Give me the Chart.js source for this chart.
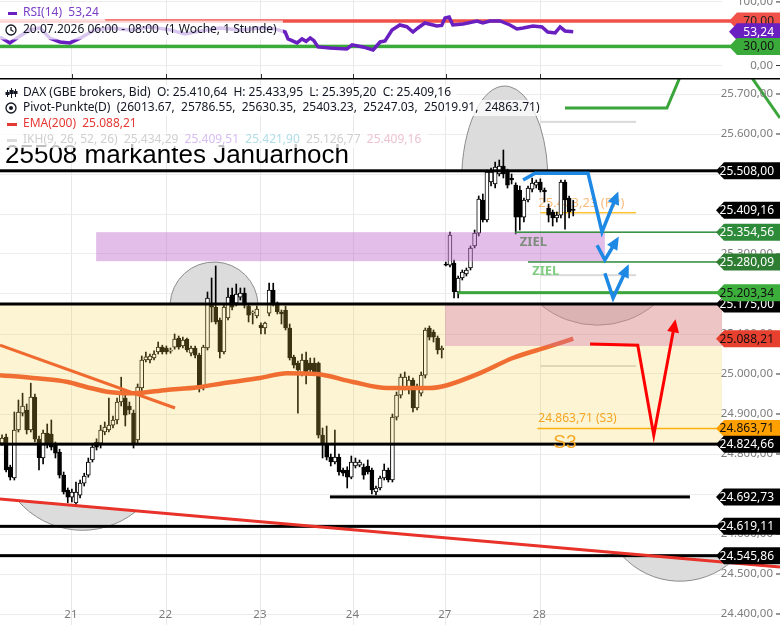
<!DOCTYPE html>
<html>
<head>
<meta charset="utf-8">
<script src="https://cdn.jsdelivr.net/npm/chart.js@4.4.1/dist/chart.umd.min.js"></script>
<style>
  html, body { margin: 0; padding: 0; background: #fff; overflow: hidden; }
  #wrap { position: relative; width: 780px; height: 625px; }
  canvas { position: absolute; left: 0; display: block; }
  #rsi { top: 0; }
  #main { top: 78px; }
</style>
</head>
<body>
<div id="wrap">
  <canvas id="rsi" width="780" height="78"></canvas>
  <canvas id="main" width="780" height="547"></canvas>
</div>
<script>
// Tage (Position = Kerzenindex am Tagesanfang)
const tage = ['21', '22', '23', '24', '27', '28'];
const tagPos = [17, 40, 63, 85.5, 108, 131];

// DAX Stundenkerzen
const eroeffnung = [
  24827, 24842, 24767, 24740, 24860, 24902, 24910, 24860, 24942, 24837,
  24790, 24852, 24850, 24822, 24805, 24747, 24710, 24692, 24678, 24697,
  24727, 24747, 24785, 24830, 24827, 24855, 24860, 24872, 24885, 24930,
  24940, 24920, 24902, 24835, 24965, 25035, 25035, 25040, 25055, 25067,
  25065, 25057, 25067, 25090, 25070, 25087, 25052, 25065, 25047, 24967,
  25065, 25172, 25167, 25135, 25055, 25140, 25197, 25177, 25192, 25202,
  25170, 25152, 25145, 25122, 25115, 25152, 25210, 25177, 25155, 25160,
  25115, 25042, 25027, 25002, 25035, 25027, 25027, 25027, 24847, 24822,
  24792, 24780, 24792, 24760, 24760, 24742, 24770, 24772, 24767, 24770,
  24760, 24705, 24715, 24740, 24760, 24735, 24892, 24947, 24967, 24960,
  24985, 24915, 24952, 24997, 25115, 25105, 25090, 25060, 25275, 25272,
  25277, 25205, 25240, 25250, 25265, 25320, 25352, 25435, 25385, 25480,
  25475, 25500, 25520, 25505, 25490, 25472, 25460, 25392, 25435, 25462,
  25472, 25480, 25460, 25415, 25405, 25390, 25397, 25480, 25440, 25410.64
];
const hoch = [
  24848, 24850, 24772, 24905, 24935, 24952, 24925, 24977, 24950, 24845,
  24860, 24875, 24885, 24830, 24812, 24755, 24715, 24712, 24730, 24735,
  24752, 24790, 24825, 24838, 24872, 24880, 24940, 24895, 24940, 24992,
  24950, 24930, 24910, 24975, 25045, 25055, 25050, 25058, 25080, 25072,
  25070, 25065, 25100, 25095, 25092, 25090, 25070, 25070, 25052, 25072,
  25205, 25240, 25270, 25140, 25175, 25215, 25215, 25225, 25215, 25215,
  25175, 25158, 25170, 25128, 25130, 25227, 25227, 25180, 25160, 25170,
  25125, 25047, 25032, 25050, 25055, 25040, 25040, 25030, 24865, 24870,
  24800, 24860, 24800, 24765, 24768, 24795, 24790, 24785, 24775, 24785,
  24765, 24720, 24745, 24775, 24765, 24900, 24955, 25000, 25005, 24995,
  24990, 24975, 25005, 25115, 25120, 25110, 25095, 25070, 25280, 25355,
  25285, 25245, 25260, 25265, 25320, 25360, 25445, 25450, 25510, 25515,
  25530, 25535, 25560, 25512, 25500, 25478, 25470, 25440, 25470, 25490,
  25485, 25488, 25465, 25425, 25410, 25405, 25485, 25485, 25445, 25433.95
];
const tief = [
  24822, 24755, 24735, 24735, 24855, 24895, 24850, 24855, 24830, 24760,
  24775, 24815, 24810, 24790, 24740, 24700, 24678, 24680, 24672, 24690,
  24720, 24742, 24780, 24810, 24815, 24848, 24855, 24865, 24875, 24920,
  24870, 24900, 24815, 24825, 24958, 25030, 25028, 25035, 25050, 25050,
  25050, 25052, 25062, 25062, 25065, 25055, 25045, 25040, 24955, 24960,
  25060, 25130, 25125, 25040, 25050, 25135, 25160, 25170, 25185, 25165,
  25130, 25125, 25140, 25100, 25100, 25145, 25170, 25150, 25125, 25110,
  25035, 25015, 24902, 24995, 24975, 25000, 25000, 24840, 24790, 24785,
  24770, 24775, 24747, 24745, 24715, 24738, 24765, 24768, 24737, 24750,
  24700, 24698, 24710, 24735, 24730, 24730, 24885, 24940, 24960, 24950,
  24905, 24910, 24945, 24990, 25085, 25080, 25050, 25040, 25270, 25268,
  25190, 25190, 25235, 25245, 25260, 25315, 25345, 25380, 25380, 25470,
  25465, 25495, 25490, 25465, 25475, 25350, 25360, 25380, 25430, 25455,
  25465, 25455, 25430, 25380, 25370, 25380, 25390, 25362, 25390, 25395.20
];
const schluss = [
  24840, 24760, 24742, 24860, 24905, 24920, 24860, 24942, 24837, 24790,
  24852, 24827, 24817, 24802, 24747, 24705, 24692, 24705, 24705, 24727,
  24745, 24780, 24817, 24817, 24860, 24867, 24872, 24885, 24930, 24955,
  24897, 24910, 24827, 24967, 25035, 25043, 25045, 25050, 25067, 25055,
  25055, 25060, 25087, 25067, 25085, 25060, 25065, 25047, 24967, 25067,
  25190, 25167, 25130, 25055, 25167, 25192, 25167, 25200, 25202, 25172,
  25147, 25155, 25162, 25115, 25127, 25210, 25177, 25155, 25150, 25115,
  25040, 25022, 25010, 25035, 25005, 25010, 25005, 24847, 24827, 24792,
  24780, 24792, 24755, 24752, 24742, 24780, 24780, 24780, 24747, 24755,
  24710, 24715, 24740, 24760, 24735, 24892, 24947, 24992, 24992, 24985,
  24915, 24967, 24997, 25110, 25092, 25092, 25060, 25065, 25272, 25347,
  25205, 25240, 25255, 25260, 25315, 25352, 25437, 25385, 25505, 25505,
  25517, 25520, 25500, 25472, 25485, 25392, 25392, 25435, 25465, 25477,
  25480, 25460, 25455, 25397, 25390, 25397, 25480, 25435, 25405, 25409.16
];

// EMA(200)
const emaPos = [-0.49, 7.5, 16, 20.7, 26, 32, 40, 47.7, 53.8, 62.8, 69.3, 76.6, 85.4, 93.7, 104, 108.3, 116.3, 124.3, 132.6, 139];
const emaWert = [24997, 24990, 24980, 24967, 24955, 24952, 24960, 24967, 24977, 24990, 25002, 25000, 24980, 24965, 24965, 24972, 25002, 25040, 25067, 25088.21];

// RSI(14)
const rsiPos = [-0.49, 1.9, 4.4, 6.8, 9.2, 11.7, 14.1, 16.5, 19, 22.6, 26.3, 31.1, 36, 40.9, 44.5, 48.2, 53, 57.9, 62.8, 66.4,
  68.9, 69.6, 71.8, 73, 74, 75, 75.9, 76.9, 79.8, 83.9, 85.2, 87.8, 90.3, 92, 93.2, 94.9, 96.8, 98.5, 100, 101.2, 102.9,
  105.8, 107, 107.8, 108.8, 109.7, 112.2, 115.6, 117, 118.7, 121.2, 123.6, 125.3, 126.8, 129.2, 131.4, 132.8, 134.6, 135.8, 137, 139];
const rsiWert = [45, 35.5, 46.5, 56, 59, 43, 37, 35.5, 43, 56, 59, 56, 60.6, 56, 49.6, 54.3, 59, 56, 59, 57.5,
  52.7, 41.8, 35.5, 41.8, 38, 43.3, 39, 29.2, 27.6, 26.1, 32.4, 29.2, 24.5, 37, 38.5, 55.9, 63.7, 61, 52.7, 59, 66.9,
  62.2, 63, 74.7, 76.3, 63.7, 65.3, 70, 67, 70, 70, 63.7, 57.5, 59, 62.2, 60.6, 52.7, 51.2, 60.6, 54.3, 53.24];
const rsiGrenzen = [70, 30];

// Pivot-Punkte (Tag 28)
const pivotNamen = ['R3', 'R2', 'R1', 'PP', 'S1', 'S2', 'S3'];
const pivotWerte = [26013.67, 25786.55, 25630.35, 25403.23, 25247.03, 25019.91, 24863.71];
const pivotVon = 131, pivotBis = 154.3;

// Horizontale Linien
const linienWerte = [25508, 25175, 24824.66, 24692.73, 24619.11, 24545.86];
const linienVon = [-0.49, -0.49, -0.49, 79.8, -0.49, -0.49];
const linienBis = [175.2, 175.2, 175.2, 167.4, 175.2, 175.2];
const zielWerte = [25354.56, 25280.09, 25203.34];
const zielVon = [124.8, 128, 111];

// Zonen
const zoneOben = [25175, 25175, 25354.56];
const zoneUnten = [24824.66, 25070, 25282];
const zoneVon = [-0.49, 107.8, 22.9];
const zoneBis = [175.2, 175.2, 146.7];

// Bögen
const bogenVon = [3.9, 40.9, 111.9, 130.9, 150.9];
const bogenBis = [32.4, 62.3, 132.8, 158.9, 179];
const bogenBasisVon = [24683, 25175, 25508, 25175, 24545.86];
const bogenBasisBis = [24655, 25175, 25508, 25175, 24545.86];
const bogenScheitel = [24610, 25280, 25720, 25122, 24482];

// Trendlinien
const trendObenPos = [-0.49, 42.1];
const trendObenWert = [25072, 24915];
const trendUntenPos = [-0.49, 189.3];
const trendUntenWert = [24687.5, 24517.5];

// Szenarien
const blau1Pos = [126.8, 129.7, 142.6, 146, 149.6];
const blau1Wert = [25485, 25502, 25502, 25355, 25447];
const blau2Pos = [144.8, 146.7, 149.6];
const blau2Wert = [25322, 25285, 25335];
const blau3Pos = [146.7, 148.7, 152.1];
const blau3Wert = [25252, 25190, 25265];
const rotPos = [143.1, 154.7, 158.6, 163.7];
const rotWert = [25075, 25072, 24847, 25127];
const gruen1Pos = [137, 161.8, 165.5];
const gruen1Wert = [25665, 25665, 25755];
const gruen2Pos = [181.5, 189.3];
const gruen2Wert = [25755, 25640];

// Preismarken rechts
const markenWerte = [25508, 25409.16, 25354.56, 25280.09, 25175, 25203.34, 25088.21, 24863.71, 24824.66, 24692.73, 24619.11, 24545.86];
const markenHinter = ['#000', '#000', '#2e8b3a', '#2e7d32', '#000', '#3cae3c', '#e8402f', '#ffa000', '#000', '#000', '#000', '#000'];
const markenSchrift = ['#fff', '#fff', '#fff', '#fff', '#fff', '#111', '#111', '#111', '#fff', '#fff', '#fff', '#fff'];

const fmt = v => {
  const [g, d] = v.toFixed(2).split('.');
  return g.replace(/\B(?=(\d{3})+(?!\d))/g, '.') + ',' + d;
};
const pts = (p, w) => p.map((x, k) => ({ x, y: w[k] }));
const SCHRIFT = '12px "Noto Sans"';

function marke(ctx, y, text, bg, fg, tip) {
  const h = 8.5;
  ctx.beginPath();
  ctx.moveTo(tip, y);
  ctx.lineTo(tip + 8, y - h);
  ctx.lineTo(780, y - h);
  ctx.lineTo(780, y + h);
  ctx.lineTo(tip + 8, y + h);
  ctx.closePath();
  ctx.fillStyle = bg;
  ctx.fill();
  ctx.fillStyle = fg;
  ctx.font = SCHRIFT;
  ctx.textAlign = 'right';
  ctx.textBaseline = 'middle';
  ctx.fillText(text, 774, y + 0.5);
}

function reihe(ctx, y, teile, x0, h) {
  h = h || 16;
  ctx.font = SCHRIFT;
  let breite = 0;
  teile.forEach(([t]) => { breite += ctx.measureText(t + '  ').width; });
  ctx.fillStyle = 'rgba(255,255,255,0.75)';
  ctx.fillRect(0, y - h / 2, x0 + breite, h);
  let x = x0;
  ctx.textAlign = 'left';
  ctx.textBaseline = 'middle';
  teile.forEach(([t, farbe]) => {
    ctx.fillStyle = farbe;
    ctx.fillText(t, x, y);
    x += ctx.measureText(t + '  ').width;
  });
}

function yBeschriftung(c, fmtFn) {
  const ctx = c.ctx, s = c.scales.y;
  ctx.font = '11.5px "Noto Sans"';
  ctx.textAlign = 'right';
  ctx.textBaseline = 'middle';
  s.ticks.forEach(t => {
    const y = s.getPixelForValue(t.value);
    ctx.fillStyle = '#7d7d7d';
    ctx.fillText(fmtFn(t.value), 773, y);
    ctx.fillStyle = '#333';
    ctx.fillRect(776, y - 0.5, 4, 1);
  });
}

function pfeil(c, pos, wert, farbe) {
  const ctx = c.ctx, n = pos.length;
  const x1 = c.scales.x.getPixelForValue(pos[n - 1]), y1 = c.scales.y.getPixelForValue(wert[n - 1]);
  const x0 = c.scales.x.getPixelForValue(pos[n - 2]), y0 = c.scales.y.getPixelForValue(wert[n - 2]);
  const a = Math.atan2(y1 - y0, x1 - x0);
  ctx.save();
  ctx.translate(x1, y1);
  ctx.rotate(a);
  ctx.beginPath();
  ctx.moveTo(4, 0);
  ctx.lineTo(-9, -6);
  ctx.lineTo(-9, 6);
  ctx.closePath();
  ctx.fillStyle = farbe;
  ctx.fill();
  ctx.restore();
}

// Bogen über einer (evtl. schrägen) Sehne
function bogen(ctx, x0, y0, x1, y1, ys) {
  const mx = (x0 + x1) / 2, my = (y0 + y1) / 2;
  const a = Math.hypot(x1 - x0, y1 - y0) / 2;
  const phi = Math.atan2(y1 - y0, x1 - x0);
  const oben = ys < my;
  const h = Math.abs(ys - my);
  ctx.save();
  ctx.translate(mx, my);
  ctx.rotate(phi);
  if (!oben) ctx.scale(1, -1);
  ctx.beginPath();
  if (h <= a) {
    const R = (a * a + h * h) / (2 * h), cy = R - h;
    ctx.arc(0, cy, R, Math.atan2(-cy, -a), Math.atan2(-cy, a), false);
  } else {
    const d = 0.12 * h, ry = h + d, rx = a / Math.sqrt(1 - (d / ry) * (d / ry));
    ctx.ellipse(0, d, rx, ry, 0, Math.atan2(-d / ry, -a / rx), Math.atan2(-d / ry, a / rx), false);
  }
  ctx.restore();
  ctx.fillStyle = '#dcdcdc';
  ctx.fill();
  ctx.strokeStyle = '#8c8c8c';
  ctx.lineWidth = 1;
  ctx.stroke();
}

const xAchse = () => ({
  type: 'linear', min: -0.49, max: 175.2, offset: false,
  afterBuildTicks: s => { s.ticks = tagPos.map(v => ({ value: v })); },
  afterFit: s => { s.height = 0; },
  ticks: { display: false },
  grid: { color: '#e8e8e8', drawTicks: false, offset: false },
  border: { display: false }
});

// ---------- RSI ----------
const rsiPlugin = {
  id: 'rsiZeichnung',
  beforeDatasetsDraw(c) {
    const ctx = c.ctx, y = c.scales.y;
    const farben = ['#f0524a', '#3aaa3a'];
    rsiGrenzen.forEach((g, k) => {
      ctx.fillStyle = farben[k];
      ctx.fillRect(0, y.getPixelForValue(g) - 1.75, 740, 3.5);
    });
  },
  afterDatasetsDraw(c) {
    const ctx = c.ctx, y = c.scales.y, x = c.scales.x;
    const letzter = rsiWert[rsiWert.length - 1];
    reihe(ctx, 13, [['RSI(14)', '#7b3fc8'], [fmt(letzter), '#7b3fc8']], 23);
    ctx.fillStyle = '#6a1fc0';
    ctx.fillRect(8, 12, 9, 3);
    reihe(ctx, 30, [['20.07.2026 06:00 - 08:00', '#131722'], ['(1 Woche, 1 Stunde)', '#131722']], 23, 19);
    ctx.strokeStyle = '#131722';
    ctx.lineWidth = 1.3;
    ctx.beginPath(); ctx.arc(11, 30, 5, 0, 2 * Math.PI); ctx.stroke();
    ctx.beginPath(); ctx.moveTo(11, 27); ctx.lineTo(11, 30); ctx.lineTo(13.5, 31.5); ctx.stroke();
    yBeschriftung(c, fmt);
    tagPos.forEach(p => {
      ctx.fillStyle = '#333';
      ctx.fillRect(Math.round(x.getPixelForValue(p)), 74, 1, 4);
    });
    marke(ctx, y.getPixelForValue(70), fmt(70), '#f0524a', '#222', 729);
    marke(ctx, y.getPixelForValue(letzter), fmt(letzter), '#6a1fc0', '#fff', 729);
    marke(ctx, y.getPixelForValue(30), fmt(30), '#3aaa3a', '#111', 729);
  }
};

new Chart(document.getElementById('rsi'), {
  type: 'line',
  data: {
    datasets: [{
      label: 'RSI', data: pts(rsiPos, rsiWert),
      borderColor: '#6a1fc0', borderWidth: 3.5, pointRadius: 0, tension: 0
    }]
  },
  options: {
    responsive: false, animation: false, events: [],
    layout: { padding: 0, autoPadding: false },
    plugins: { legend: { display: false }, tooltip: { enabled: false } },
    scales: {
      x: xAchse(),
      y: {
        position: 'right', min: -19.65, max: 103,
        afterBuildTicks: s => { s.ticks = [{ value: 0 }, { value: 100 }]; },
        afterFit: s => { s.width = 58; },
        ticks: { display: false },
        grid: { color: '#ececec', drawTicks: false },
        border: { display: false }
      }
    }
  },
  plugins: [rsiPlugin]
});

// ---------- Hauptchart ----------
const X = (c, i) => c.scales.x.getPixelForValue(i);
const Y = (c, v) => c.scales.y.getPixelForValue(v);

const hauptPlugin = {
  id: 'zeichnung',
  beforeDatasetsDraw(c) {
    const ctx = c.ctx;
    bogenVon.forEach((v, k) => {
      bogen(ctx, X(c, v), Y(c, bogenBasisVon[k]), X(c, bogenBis[k]), Y(c, bogenBasisBis[k]), Y(c, bogenScheitel[k]));
    });
    // Pivot-Linien
    pivotWerte.forEach((p, k) => {
      const y = Y(c, p);
      if (y < 0 || y > c.chartArea.bottom) return;
      if (pivotNamen[k] === 'PP') { ctx.fillStyle = '#ffc233'; ctx.fillRect(X(c, pivotVon), y - 0.75, X(c, pivotBis) - X(c, pivotVon), 1.5); }
      else if (pivotNamen[k] === 'S3') { ctx.fillStyle = '#ffa500'; ctx.fillRect(X(c, pivotVon) - 3, y - 0.75, X(c, 175.2) - X(c, pivotVon) + 3, 1.5); }
      else { ctx.fillStyle = '#d9d9d9'; ctx.fillRect(X(c, pivotVon), y - 1, X(c, pivotBis) - X(c, pivotVon), 2); }
    });
    const pp = pivotWerte[pivotNamen.indexOf('PP')];
    ctx.font = '13px "Noto Sans"';
    ctx.textAlign = 'left';
    ctx.textBaseline = 'alphabetic';
    ctx.fillStyle = 'rgba(247,160,70,0.7)';
    ctx.fillText(fmt(pp) + ' (PP)', X(c, pivotVon) - 2, Y(c, pp) - 6);
  },
  afterDatasetDraw(c, args) {
    if (c.data.datasets[args.index].label !== 'Trend oben') return;
    const ctx = c.ctx;
    const zFarben = ['rgba(242,208,67,0.24)', 'rgba(205,110,168,0.35)', 'rgba(190,110,205,0.45)'];
    zoneOben.forEach((o, k) => {
      const x0 = X(c, zoneVon[k]), x1 = X(c, zoneBis[k]);
      const y0 = Y(c, o), y1 = Y(c, zoneUnten[k]);
      ctx.fillStyle = zFarben[k];
      ctx.fillRect(x0, y0, x1 - x0, y1 - y0);
    });
    // schwarze Linien
    linienWerte.forEach((w, k) => {
      const x0 = X(c, linienVon[k]), x1 = X(c, linienBis[k]);
      ctx.fillStyle = '#000';
      ctx.fillRect(x0, Y(c, w) - 1.5, x1 - x0, 3);
    });
    // Ziel-Linien
    const zBreite = [1.5, 1.5, 3], zFarbe = ['#2e8b3a', '#2e8b3a', '#3aa53a'];
    zielWerte.forEach((w, k) => {
      const x0 = X(c, zielVon[k]), x1 = X(c, 175.2);
      ctx.fillStyle = zFarbe[k];
      ctx.fillRect(x0, Y(c, w) - zBreite[k] / 2, x1 - x0, zBreite[k]);
    });
    ctx.textAlign = 'left';
    ctx.textBaseline = 'alphabetic';
    ctx.font = 'bold 13px "Noto Sans"';
    ctx.fillStyle = '#7d8c7d';
    ctx.fillText('ZIEL', X(c, 126), Y(c, zielWerte[0]) + 14);
    ctx.fillStyle = '#7fcc7f';
    ctx.fillText('ZIEL', X(c, 129), Y(c, zielWerte[1]) + 13);
    // S3
    const s3 = pivotWerte[pivotNamen.indexOf('S3')];
    ctx.font = '12px "Noto Sans"';
    ctx.fillStyle = '#f5a623';
    ctx.fillText(fmt(s3) + ' (S3)', X(c, pivotVon) - 2, Y(c, s3) - 7);
    ctx.font = '19px "Liberation Sans"';
    ctx.fillText('S3', X(c, pivotVon) + 13, Y(c, s3) + 19);
    // Titel
    ctx.font = '26px "Liberation Sans"';
    ctx.fillStyle = '#000';
    ctx.fillText('25508 markantes Januarhoch', 5, 85);
  },
  afterDatasetsDraw(c) {
    pfeil(c, blau1Pos, blau1Wert, '#1e88e5');
    pfeil(c, blau2Pos, blau2Wert, '#1e88e5');
    pfeil(c, blau3Pos, blau3Wert, '#1e88e5');
    pfeil(c, rotPos, rotWert, '#ff0000');
  },
  afterDraw(c) {
    const ctx = c.ctx;
    ctx.fillStyle = '#000';
    ctx.fillRect(0, 0, 780, 1.5);
    yBeschriftung(c, fmt);
    // Tage
    ctx.font = '11.5px "Noto Sans"';
    ctx.fillStyle = '#7a7a7a';
    ctx.textAlign = 'center';
    ctx.textBaseline = 'middle';
    tage.forEach((t, k) => ctx.fillText(t, X(c, tagPos[k]) - 1, 537));
    // Marken
    markenWerte.forEach((w, k) => marke(ctx, Y(c, w), fmt(w), markenHinter[k], markenSchrift[k], 716));
    // Legende
    const n = eroeffnung.length - 1;
    reihe(ctx, 15, [['DAX (GBE brokers, Bid)', '#131722'], ['O: ' + fmt(eroeffnung[n]), '#131722'], ['H: ' + fmt(hoch[n]), '#131722'],
      ['L: ' + fmt(tief[n]), '#131722'], ['C: ' + fmt(schluss[n]), '#131722']], 23);
    ctx.fillStyle = '#131722';
    [[7, 12, 19, 14, 17], [11, 10, 20, 12, 16], [15, 11, 19, 13, 16]].forEach(([x, a, b, t, u]) => {
      ctx.fillRect(x, a, 1, b - a);
      ctx.fillRect(x - 1.5, t, 4, u - t);
    });
    reihe(ctx, 30, [['Pivot-Punkte(D)', '#131722'], ['(' + pivotWerte.map(v => v.toFixed(2)).join(',  ') + ')', '#131722']], 23);
    ctx.strokeStyle = '#131722';
    ctx.lineWidth = 1.3;
    ctx.beginPath(); ctx.arc(11, 30, 5, 0, 2 * Math.PI); ctx.stroke();
    ctx.beginPath(); ctx.arc(11, 30, 2, 0, 2 * Math.PI); ctx.fillStyle = '#131722'; ctx.fill();
    reihe(ctx, 46, [['EMA(200)', '#e53935'], [fmt(emaWert[emaWert.length - 1]), '#e53935']], 23);
    ctx.fillStyle = '#e53935';
    ctx.fillRect(7, 45, 10, 3);
    reihe(ctx, 62, [['IKH(9, 26, 52, 26)', '#cfcfcf'], ['25.434,29', '#cfcfcf'], ['25.409,51', '#d7bdf0'],
      ['25.421,90', '#b0dde8'], ['25.126,77', '#cfcfcf'], ['25.409,16', '#ecc3d3']], 23);
    ctx.fillStyle = '#dcdcdc';
    ctx.fillRect(7, 61, 10, 3);
  }
};

const kerzen = eroeffnung.map((o, i) => ({ i, o, h: hoch[i], l: tief[i], c: schluss[i] }));

new Chart(document.getElementById('main'), {
  type: 'bar',
  data: {
    datasets: [
      {
        label: 'Docht', data: kerzen.map(k => ({ x: k.i, y: [k.l, k.h] })),
        backgroundColor: '#000', barThickness: 1, grouped: false, order: 10
      },
      {
        label: 'Körper', data: kerzen.map(k => ({ x: k.i, y: [k.o, k.c] })),
        backgroundColor: ctx => (ctx.raw && ctx.raw.y[1] >= ctx.raw.y[0]) ? '#fff' : '#000',
        borderColor: '#000', borderWidth: 1, borderSkipped: false,
        barThickness: 4, minBarLength: 1, grouped: false, order: 9
      },
      {
        type: 'line', label: 'EMA(200)', data: pts(emaPos, emaWert),
        borderColor: '#f0502c', borderWidth: 4.5, pointRadius: 0, cubicInterpolationMode: 'monotone', order: 8
      },
      {
        type: 'line', label: 'Trend oben', data: pts(trendObenPos, trendObenWert),
        borderColor: '#f04a2a', borderWidth: 3, pointRadius: 0, order: 7
      },
      {
        type: 'line', label: 'Trend unten', data: pts(trendUntenPos, trendUntenWert),
        borderColor: '#e8322a', borderWidth: 3, pointRadius: 0, clip: false, order: 6
      },
      {
        type: 'line', label: 'Grün 1', data: pts(gruen1Pos, gruen1Wert),
        borderColor: '#3aa53a', borderWidth: 3, pointRadius: 0, clip: false, order: 5
      },
      {
        type: 'line', label: 'Grün 2', data: pts(gruen2Pos, gruen2Wert),
        borderColor: '#3aa53a', borderWidth: 3, pointRadius: 0, clip: false, order: 5
      },
      {
        type: 'line', label: 'Rot', data: pts(rotPos, rotWert),
        borderColor: '#ff0000', borderWidth: 3, pointRadius: 0, clip: false, order: 4
      },
      {
        type: 'line', label: 'Blau 1', data: pts(blau1Pos, blau1Wert),
        borderColor: '#1e88e5', borderWidth: 3.5, pointRadius: 0, clip: false, order: 3
      },
      {
        type: 'line', label: 'Blau 2', data: pts(blau2Pos, blau2Wert),
        borderColor: '#1e88e5', borderWidth: 3.5, pointRadius: 0, clip: false, order: 3
      },
      {
        type: 'line', label: 'Blau 3', data: pts(blau3Pos, blau3Wert),
        borderColor: '#1e88e5', borderWidth: 3.5, pointRadius: 0, clip: false, order: 3
      }
    ]
  },
  options: {
    responsive: false, animation: false, events: [],
    layout: { padding: 0, autoPadding: false },
    plugins: { legend: { display: false }, tooltip: { enabled: false } },
    scales: {
      x: xAchse(),
      y: {
        position: 'right', min: 24372.5, max: 25740,
        afterFit: s => { s.width = 58; },
        ticks: { display: false, stepSize: 100, includeBounds: false },
        grid: { color: '#ececec', drawTicks: false },
        border: { display: false }
      }
    }
  },
  plugins: [hauptPlugin]
});
</script>
</body>
</html>
